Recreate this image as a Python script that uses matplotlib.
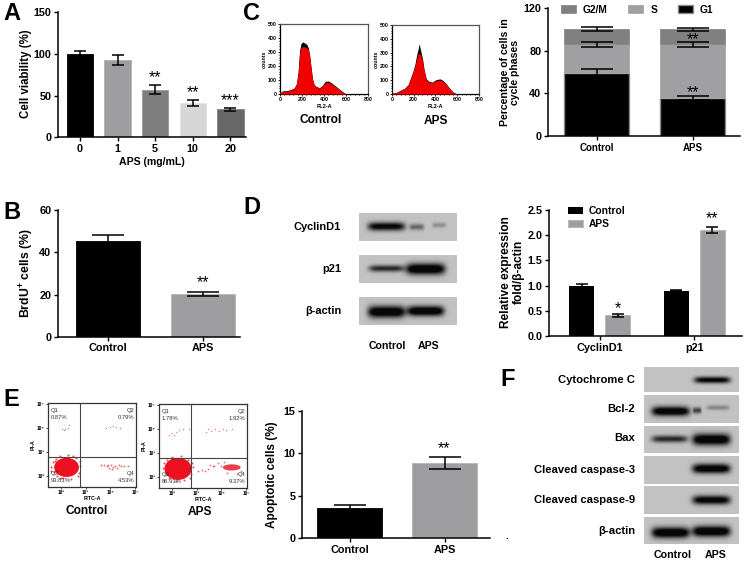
import numpy as np
import matplotlib
matplotlib.use("Agg")
import matplotlib.pyplot as plt
from matplotlib.patches import Ellipse
from matplotlib.ticker import MultipleLocator

plt.rcParams.update({
    "font.family": ["Liberation Sans", "DejaVu Sans"],
    "font.weight": "bold", "axes.labelweight": "bold",
    "mathtext.fontset": "custom", "mathtext.bf": "Liberation Sans:bold",
    "mathtext.rm": "Liberation Sans:bold", "mathtext.default": "bf",
})

# ---- data ----
a_labels = ["0", "1", "5", "10", "20"]
a_values = [100, 93, 57, 41, 33.5]
a_errors = [3, 6, 5.5, 3.5, 2]
a_colors = ["#000000", "#9e9ea1", "#7e7e7e", "#d6d6d6", "#676767"]
a_stars = ["", "", "**", "**", "***"]

two_groups = ["Control", "APS"]
b_values = [45.5, 20.2]
b_errors = [2.8, 1.0]

c_g1 = [59.5, 35.5]
c_s = [26.5, 50.5]
c_g2m = [14, 14]
c_g1_err = [3, 2.2]
c_s_err = [2.2, 2.2]
c_g2m_err = [2, 1.6]

hist_x = [0, 20, 60, 100, 130, 150, 165, 178, 190, 205, 225, 245, 258, 270, 283, 295, 310, 330, 360, 385,
          410, 440, 470, 500, 530, 560, 590, 600, 800]
hist_control_red = [5, 18, 20, 28, 40, 70, 150, 290, 330, 338, 338, 330, 315, 265, 180, 105, 65, 50, 42, 55,
                    80, 85, 72, 55, 38, 20, 5, 0, 0]
hist_control_top = [6, 22, 24, 32, 44, 75, 160, 310, 358, 372, 365, 352, 328, 275, 186, 110, 68, 53, 45, 60,
                    90, 93, 78, 60, 41, 22, 6, 0, 0]
hist_aps_x = [0, 40, 80, 120, 150, 170, 190, 210, 225, 240, 250, 262, 280, 295, 315, 340, 370, 400, 440,
              470, 500, 530, 560, 595, 800]
hist_aps_red = [4, 10, 25, 40, 65, 110, 150, 200, 250, 290, 295, 285, 245, 170, 105, 88, 82, 95, 102,
                92, 68, 38, 14, 0, 0]
hist_aps_top = [5, 12, 28, 44, 70, 116, 158, 212, 275, 325, 365, 320, 258, 176, 110, 92, 86, 102, 110,
                98, 72, 41, 16, 0, 0]

d_groups = ["CyclinD1", "p21"]
d_control = [0.99, 0.90]
d_aps = [0.41, 2.11]
d_control_err = [0.05, 0.01]
d_aps_err = [0.03, 0.06]

e_values = [3.6, 8.85]
e_errors = [0.3, 0.7]

# flow cytometry: (log10 FITC, log10 PI)
fl_ctrl_q1 = [(2.05, 3.93), (2.15, 3.95), (2.3, 3.98), (2.32, 4.1), (2.12, 3.9)]
fl_ctrl_q2 = [(3.82, 4.0), (3.98, 4.03), (4.12, 4.05), (4.25, 4.02), (4.4, 4.0)]
fl_ctrl_q4 = [(3.62, 2.45), (3.75, 2.42), (3.85, 2.38), (3.95, 2.3), (4.02, 2.42), (4.1, 2.35), (4.2, 2.4),
              (4.28, 2.3), (4.35, 2.42), (4.45, 2.38), (4.55, 2.4), (4.7, 2.4), (3.9, 2.45), (4.05, 2.28)]
fl_ctrl_blob = [(1.62, 2.35), (1.68, 2.55), (1.72, 2.15), (1.8, 2.7), (1.85, 2.0), (1.95, 2.8), (2.1, 1.88),
                (2.3, 2.85), (2.42, 1.85), (2.6, 2.75), (2.72, 2.1), (2.76, 2.4), (2.78, 2.6), (2.68, 1.98),
                (1.6, 2.2), (2.0, 1.9), (2.5, 2.82), (1.75, 2.62)]
fl_aps_q1 = [(1.9, 3.72), (2.0, 3.82), (2.15, 3.85), (2.3, 3.95), (2.45, 3.98), (2.68, 3.98), (2.1, 3.75)]
fl_aps_q2 = [(3.4, 3.85), (3.45, 3.98), (3.6, 3.9), (3.75, 3.98), (3.9, 3.92), (4.05, 3.98), (4.2, 3.95), (4.45, 3.98)]
fl_aps_q4 = [(3.05, 2.25), (3.2, 2.28), (3.35, 2.22), (3.45, 2.3), (3.55, 2.5), (3.7, 2.45), (3.85, 2.55),
             (4.0, 2.45), (4.7, 2.4), (4.78, 2.25), (4.62, 2.1), (4.25, 2.15), (3.65, 2.42), (4.1, 2.6)]
fl_aps_blob = [(1.65, 2.35), (1.7, 2.55), (1.75, 2.1), (1.82, 2.7), (1.9, 1.95), (2.0, 2.82), (2.15, 1.82),
               (2.35, 2.85), (2.5, 1.85), (2.65, 2.7), (2.78, 2.1), (2.85, 2.4), (2.82, 2.55), (2.72, 1.95)]

flow_labels = ["10²", "10³", "10⁴", "10⁵"]
flow_ctrl_q = ["0.87%", "0.79%", "93.81%", "4.53%"]
flow_aps_q = ["1.78%", "1.92%", "86.93%", "9.37%"]

# blots: (lane centre, half width, row position, thickness, darkness)
d_blot_rows = [
    [(0.28, 0.19, 0.48, 0.15, 1.1), (0.59, 0.075, 0.5, 0.11, 0.5), (0.82, 0.07, 0.43, 0.09, 0.28)],
    [(0.28, 0.18, 0.48, 0.12, 0.85), (0.68, 0.20, 0.50, 0.20, 1.3)],
    [(0.28, 0.19, 0.53, 0.21, 1.3), (0.68, 0.19, 0.50, 0.18, 1.3)],
]
f_blot_rows = [
    [(0.72, 0.19, 0.52, 0.13, 1.1)],
    [(0.28, 0.20, 0.58, 0.17, 1.25), (0.56, 0.045, 0.55, 0.11, 0.7), (0.78, 0.12, 0.45, 0.09, 0.33)],
    [(0.27, 0.19, 0.48, 0.13, 0.85), (0.71, 0.20, 0.50, 0.21, 1.3)],
    [(0.71, 0.20, 0.45, 0.17, 1.25)],
    [(0.71, 0.20, 0.50, 0.16, 1.15)],
    [(0.28, 0.20, 0.58, 0.20, 1.3), (0.71, 0.20, 0.53, 0.20, 1.3)],
]
d_blot_names = ["CyclinD1", "p21", "β-actin"]
f_blot_names = ["Cytochrome C", "Bcl-2", "Bax", "Cleaved caspase-3", "Cleaved caspase-9", "β-actin"]

W, H = 750, 567
fig = plt.figure(figsize=(7.5, 5.67), dpi=100, facecolor="white")


def px_axes(l, t, r, b):
    return fig.add_axes([l / W, 1 - b / H, (r - l) / W, (b - t) / H])


def px_text(x, y, s, **kw):
    kw.setdefault("ha", "center")
    kw.setdefault("va", "center")
    return fig.text(x / W, 1 - y / H, s, **kw)


def style(ax):
    for s in ("top", "right"):
        ax.spines[s].set_visible(False)
    for s in ("left", "bottom"):
        ax.spines[s].set_linewidth(1.1)
    ax.tick_params(width=1.0, length=3.2, pad=1.5, labelsize=7.8)


def ylab(ax, box, x, y, s, size=8.8):
    l, t, r, b = box
    ax.set_ylabel(s, fontsize=size, va="center", ha="center", linespacing=1.1)
    ax.yaxis.set_label_coords((x - l) / (r - l), (b - y) / (b - t))


def cat_lim(c0, step, l, r):
    return (l - c0) / step, (r - c0) / step


def stars(ax, x, y, s):
    ax.text(x, y, s, ha="center", va="center", fontsize=11.5, fontweight="normal", clip_on=False, zorder=6)


EB = dict(ecolor="black", elinewidth=1.1, capthick=1.1, fmt="none", zorder=4)

# A
box = (58, 12, 246, 137.3)
ax = px_axes(*box); style(ax)
xa = np.arange(len(a_values))
ax.bar(xa, a_values, width=0.70, color=a_colors, edgecolor=["#000000", "#b0b0b0", "#999999", "#e2e2e2", "#808080"], linewidth=0.6)
ax.errorbar(xa, a_values, yerr=a_errors, capsize=4.6, **EB)
for x, v, e, s in zip(xa, a_values, a_errors, a_stars):
    if s:
        stars(ax, x, v + e + 8.5, s)
ax.set_xlim(*cat_lim(80, 37.6, 58, 246)); ax.set_ylim(0, 150)
ax.set_yticks([0, 50, 100, 150]); ax.set_xticks(xa, a_labels)
ax.set_xlabel("APS (mg/mL)", fontsize=7.6, labelpad=2.5)
ylab(ax, box, 26, 74, "Cell viability (%)", size=8.3)

# B
box = (58, 210.3, 240, 336.7)
ax = px_axes(*box); style(ax)
xb = np.arange(2)
ax.bar(xb, b_values, width=0.674, color=["black", "#9e9ea1"], edgecolor=["black", "#b4b4b4"], linewidth=0.6)
ax.errorbar(xb, b_values, yerr=b_errors, capsize=11.5, **EB)
stars(ax, 1, 25.5, "**")
ax.set_xlim(*cat_lim(108, 95, 58, 240)); ax.set_ylim(0, 60)
ax.set_yticks([0, 20, 40, 60]); ax.set_xticks(xb, two_groups)
ylab(ax, box, 27, 273, r"BrdU$^{+}$ cells (%)")


# C histograms
def hist_panel(box, xs, red, top):
    ax = px_axes(*box)
    ax.fill_between(xs, top, color="black", lw=0, zorder=2)
    ax.fill_between(xs, red, color="#f00000", lw=0, zorder=3)
    ax.set_xlim(0, 800); ax.set_ylim(0, 500)
    ax.set_xticks(range(0, 801, 200)); ax.set_yticks(range(0, 501, 100))
    ax.xaxis.set_minor_locator(MultipleLocator(40)); ax.yaxis.set_minor_locator(MultipleLocator(20))
    ax.tick_params(labelsize=3.8, length=1.6, width=0.6, pad=0.8)
    ax.tick_params(which="minor", length=1.0, width=0.6)
    for s in ax.spines.values():
        s.set_linewidth(0.9); s.set_color("#555555")
    ax.spines["left"].set_color("black"); ax.spines["bottom"].set_color("black")
    ax.set_xlabel("FL2-A", fontsize=4.0, labelpad=1)
    ax.set_ylabel("counts", fontsize=3.8, labelpad=1)


hist_panel((280, 24, 368, 94), hist_x, hist_control_red, hist_control_top)
hist_panel((392, 25, 479, 94), hist_aps_x, hist_aps_red, hist_aps_top)
px_text(321, 120, "Control", fontsize=8.6)
px_text(436, 121, "APS", fontsize=8.6)

# C stacked
box = (548, 8, 740, 136)
ax = px_axes(*box); style(ax)
xc = np.arange(2)
g1 = np.array(c_g1); s_ = np.array(c_s); g2 = np.array(c_g2m)
ax.bar(xc, g1, width=0.677, color="black", edgecolor="#8c8c8c", linewidth=1.0, label="G1")
ax.bar(xc, s_, bottom=g1, width=0.677, color="#a0a0a3", edgecolor="#a8a8a8", linewidth=0.6, label="S")
ax.bar(xc, g2, bottom=g1 + s_, width=0.677, color="#808080", edgecolor="#8a8a8a", linewidth=0.6, label="G2/M")
ax.errorbar(xc, g1, yerr=c_g1_err, capsize=11.8, **EB)
ax.errorbar(xc, g1 + s_, yerr=c_s_err, capsize=11.8, **EB)
ax.errorbar(xc, g1 + s_ + g2, yerr=c_g2m_err, capsize=11.8, **EB)
stars(ax, 1, 41, "**")
stars(ax, 1, 90, "**")
ax.set_xlim(*cat_lim(596.7, 96, 548, 740)); ax.set_ylim(0, 120)
ax.set_yticks([0, 40, 80, 120]); ax.set_xticks(xc, two_groups)
ax.tick_params(axis="x", labelsize=7.0)
h, l_ = ax.get_legend_handles_labels()
ax.legend(h[::-1], l_[::-1], ncols=3, frameon=False, fontsize=7.4, handlelength=1.45, handleheight=0.8,
          handletextpad=0.7, columnspacing=2.0, loc="center", bbox_to_anchor=(0.464, (136 - 10) / 128),
          borderaxespad=0, borderpad=0)
ylab(ax, box, 510, 72, "Percentage of cells in\ncycle phases", size=7.6)


# blots
def blot(l, t, r, b, bands, bg=0.76):
    ax = px_axes(l, t, r, b)
    u = np.linspace(0, 1, 260)
    v = np.linspace(0, 1, 80)
    U, V = np.meshgrid(u, v)
    img = np.full(U.shape, bg)
    for c, hw, yc, th, d in bands:
        prof = np.exp(-(((U - c) / hw) ** 6)) * np.exp(-(((V - yc) / th) ** 2))
        img -= d * (bg - 0.03) * prof
    ax.imshow(np.clip(img, 0.03, 1), cmap="gray", vmin=0, vmax=1, extent=(0, 1, 1, 0), aspect="auto", interpolation="bilinear")
    ax.axis("off")


d_rects = [(213, 241), (255, 283), (297, 325)]
d_label_y = [227, 269, 311]
for (t, b), bands, name, y in zip(d_rects, d_blot_rows, d_blot_names, d_label_y):
    blot(359, t, 457, b, bands)
    px_text(341, y, name, ha="right", fontsize=7.9)
px_text(387, 346, "Control", fontsize=7.6)
px_text(429, 346, "APS", fontsize=7.6)

f_rects = [(367, 392), (395, 423), (426, 453), (456, 484), (486, 514), (517, 544)]
f_label_y = [380, 409, 438, 470, 500, 531]
for (t, b), bands, name, y in zip(f_rects, f_blot_rows, f_blot_names, f_label_y):
    blot(644, t, 739, b, bands)
    px_text(635, y, name, ha="right", fontsize=8.1)
px_text(673, 555, "Control", fontsize=7.7)
px_text(716, 555, "APS", fontsize=7.7)
px_text(507, 536, ".", fontsize=7)

# D bars
box = (549, 210, 742, 336)
ax = px_axes(*box); style(ax)
xd = np.arange(2)
w = 0.26
ax.bar(xd - 0.19, d_control, width=w, color="black", label="Control")
ax.bar(xd + 0.19, d_aps, width=w, color="#9e9ea1", edgecolor="#b0b0b0", linewidth=0.5, label="APS")
ax.errorbar(xd - 0.19, d_control, yerr=d_control_err, capsize=4.3, **EB)
ax.errorbar(xd + 0.19, d_aps, yerr=d_aps_err, capsize=4.3, **EB)
stars(ax, 0.19, 0.55, "*")
stars(ax, 1.19, 2.32, "**")
ax.set_xlim(*cat_lim(599.7, 94.7, 549, 742)); ax.set_ylim(0, 2.5)
ax.set_yticks([0, 0.5, 1, 1.5, 2, 2.5], ["0.0", "0.5", "1.0", "1.5", "2.0", "2.5"])
ax.set_xticks(xd, d_groups)
ax.legend(frameon=False, fontsize=7.4, handlelength=1.45, handleheight=0.7, handletextpad=0.6,
          labelspacing=0.3, loc="upper left", bbox_to_anchor=(0.098, 1.03), borderaxespad=0, borderpad=0)
ylab(ax, box, 512.5, 272, "Relative expression\nfold/β-actin", size=8.6)


# E flow
def flow(box, xpts, blob, qtext, q_dense=None):
    ax = px_axes(*box)
    ax.set_xlim(1.48, 5.04); ax.set_ylim(1.52, 5.03)
    cx, cy, rx, ry = blob
    ax.add_patch(Ellipse((cx, cy), 2 * rx, 2 * ry, color="#ee1020", lw=0, zorder=2))
    if q_dense:
        ax.add_patch(Ellipse(q_dense[:2], 2 * q_dense[2], 2 * q_dense[3], color="#e8202c", lw=0, alpha=0.85, zorder=2))
    for pts, sz, al in xpts:
        arr = np.array(pts)
        ax.scatter(arr[:, 0], arr[:, 1], s=sz, color="#e8202c", alpha=al, lw=0, zorder=3)
    ax.axvline(2.76, color="#444444", lw=0.8, zorder=4)
    ax.axhline(2.77, color="#444444", lw=0.8, zorder=4)
    for s in ax.spines.values():
        s.set_linewidth(0.9); s.set_color("#333333")
    ax.set_xticks([2, 3, 4, 5], flow_labels); ax.set_yticks([2, 3, 4, 5], flow_labels)
    ax.tick_params(labelsize=3.4, length=1.5, width=0.5, pad=0.8)
    ax.set_xlabel("FITC-A", fontsize=3.9, labelpad=0.8)
    ax.set_ylabel("PI-A", fontsize=3.9, labelpad=0.8)
    t = dict(fontsize=4.2, fontweight="normal", color="#333333", linespacing=1.5)
    ax.text(1.6, 4.55, "Q1\n" + qtext[0], ha="left", va="center", **t)
    ax.text(4.96, 4.55, "Q2\n" + qtext[1], ha="right", va="center", **t)
    ax.text(1.6, 1.95, "Q3\n" + qtext[2], ha="left", va="center", zorder=6, **t)
    ax.text(4.96, 1.95, "Q4\n" + qtext[3], ha="right", va="center", **t)


flow((48, 403, 136, 487),
     [(fl_ctrl_q1, 1.0, 0.6), (fl_ctrl_q2, 1.0, 0.6), (fl_ctrl_q4, 1.8, 0.65), (fl_ctrl_blob, 2.2, 0.8)],
     (2.23, 2.34, 0.50, 0.40), flow_ctrl_q)
flow((159, 404, 247, 488),
     [(fl_aps_q1, 1.0, 0.6), (fl_aps_q2, 1.0, 0.6), (fl_aps_q4, 1.6, 0.65), (fl_aps_blob, 2.2, 0.8)],
     (2.25, 2.32, 0.55, 0.46), flow_aps_q, q_dense=(4.42, 2.38, 0.36, 0.13))
px_text(87, 511, "Control", fontsize=8.6)
px_text(200, 512, "APS", fontsize=8.6)

# E bars
box = (302, 411, 490, 538)
ax = px_axes(*box); style(ax)
xe = np.arange(2)
ax.bar(xe, e_values, width=0.68, color=["black", "#9e9ea1"], edgecolor=["black", "#b4b4b4"], linewidth=0.6)
ax.errorbar(xe, e_values, yerr=e_errors, capsize=11.5, **EB)
stars(ax, 1, 10.5, "**")
ax.set_xlim(*cat_lim(349.5, 95, 302, 490)); ax.set_ylim(0, 15)
ax.set_yticks([0, 5, 10, 15]); ax.set_xticks(xe, two_groups)
ylab(ax, box, 272, 475, "Apoptotic cells (%)", size=8.5)

# panel letters
for s, x, y in [("A", 3, 13), ("B", 3, 213), ("C", 243, 14), ("D", 243, 208), ("E", 3, 400), ("F", 500, 380)]:
    px_text(x, y, s, ha="left", fontsize=17)

fig.savefig("out.png", dpi=100, facecolor="white")
